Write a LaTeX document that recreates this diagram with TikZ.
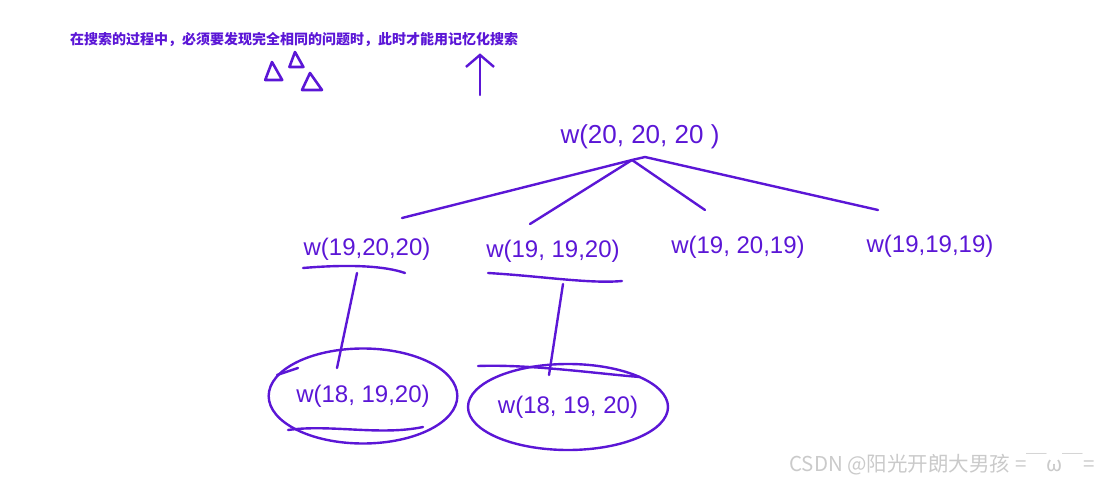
\documentclass[tikz,border=0pt]{standalone}
\usepackage{fontspec}
\setmainfont{Liberation Sans}
\newfontfamily\cjk{Noto Sans CJK SC}
\usetikzlibrary{arrows.meta,calc,positioning,shapes.geometric}
\definecolor{pen}{HTML}{5B16D6}
\definecolor{wmgray}{HTML}{CACACA}

\begin{document}
\begin{tikzpicture}[x=1pt,y=-1pt,>={Straight Barb[length=12pt,width=28pt]},
  stroke/.style={draw=pen,line width=2.4pt,line cap=round,line join=round},
  call/.style={text=pen,inner sep=0pt,font=\fontsize{24}{24}\selectfont},
  ring/.style={ellipse,draw=pen,line width=2.4pt,inner sep=0pt}]
\useasboundingbox (0,0) rectangle (1098,481);
\node[text=pen,anchor=west,inner sep=0pt,font=\cjk\bfseries\fontsize{14}{14}\selectfont] (note) at (70,40) {在搜索的过程中，必须要发现完全相同的问题时，此时才能用记忆化搜索};
% little triangles and the arrow up to the note
\foreach \x/\y/\w/\h in {272/62/17/18, 295/52/14/15, 310/73/20/17}
  \draw[stroke,line width=2.6pt] (\x,\y) -- ++(-0.4*\w,\h) -- ++(\w,0) -- cycle;
\coordinate (arrowfoot) at (480,95);
\draw[stroke,->] (arrowfoot) -- (arrowfoot |- note.south) [shorten >=6pt];
% tree
\node[call,font=\fontsize{26}{26}\selectfont] (top) at (640,137) {w(20,\ 20,\ 20\ )};
\node[call] (a) at (367,249) {w(19,20,20)};
\node[call] (b) at (553,251) {w(19, 19,20)};
\node[call] (c) at (738,247) {w(19, 20,19)};
\node[call] (d) at (930,246) {w(19,19,19)};
\coordinate (fork) at (632,160); \coordinate (fork2) at (645,157);
\coordinate (ta) at (402,218); \coordinate (tb) at (530,224);
\coordinate (tc) at (705,210); \coordinate (td) at (878,210);
\draw[stroke] (fork) -- (ta); \draw[stroke] (fork) -- (tb);
\draw[stroke] (fork) -- (tc); \draw[stroke] (fork) -- (fork2) -- (td);
\draw[stroke] (303,268) .. controls (350,264) and (385,266) .. (405,273);
\draw[stroke] (488,273) .. controls (540,276) and (590,284) .. (622,281);
\node[ring,call,minimum width=183pt,minimum height=95pt] (e) at (363,396) {w(18, 19,20)};
\node[ring,call,minimum width=200pt,minimum height=86pt] (f) at (568,407) {w(18, 19, 20)};
\coordinate (ua) at (357,273); \coordinate (ea) at (337,368);
\coordinate (ub) at (563,284); \coordinate (eb) at (549,375);
\draw[stroke] (ua) -- (ea); \draw[stroke] (ub) -- (eb);
\draw[stroke] (277,375) -- (298,368);
\draw[stroke] (288,430) .. controls (330,424) and (380,436) .. (423,427);
\draw[stroke] (478,366) .. controls (530,364) and (600,374) .. (640,377);
% watermark
\node[anchor=east,inner sep=0pt,text=wmgray,font=\cjk\fontsize{20.5}{20.5}\selectfont] (wm) at (1095,464) {CSDN @阳光开朗大男孩 =￣ω￣=};
\end{tikzpicture}
\end{document}
